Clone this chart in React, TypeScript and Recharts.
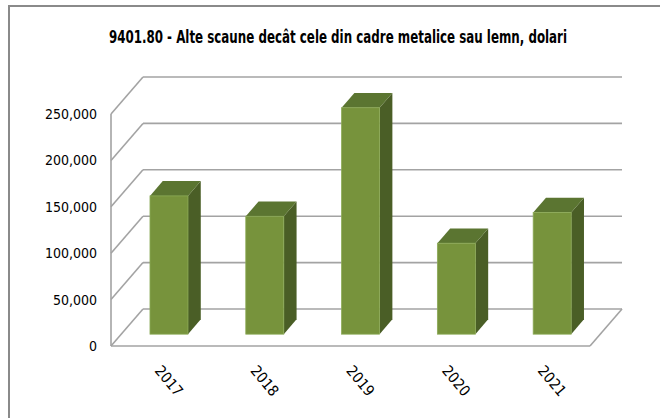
import React, { useLayoutEffect, useRef, useState } from 'react';
import { BarChart, Bar, XAxis, YAxis, CartesianGrid } from 'recharts';

const YEARS = ['2017', '2018', '2019', '2020', '2021'];
const VALUES = [149000, 127000, 244000, 98000, 131000];
const Y_TICKS = [0, 50000, 100000, 150000, 200000, 250000];
const TITLE = '9401.80 - Alte scaune decât cele din cadre metalice sau lemn, dolari';

// 3D look: depth of the floor, bar offset and bar depth (fractions of floor depth)
const DX = 32;
const DY = 37;
const BAR_OFFSET = 0.32;
const BAR_DEPTH = 0.4;

const FRONT = '#77933C';
const TOP = '#5B7531';
const SIDE = '#4A5E26';
const GRID = '#a3a3a3';
const FONT = '"DejaVu Sans Condensed", "DejaVu Sans", sans-serif';
const TITLE_WIDTH = 458;

const data = YEARS.map((year, i) => ({ year, value: VALUES[i] }));

function Box3D(props: any) {
  const { x, y, width, height } = props;
  if (height == null || width == null) return null;
  const fx = x + DX * BAR_OFFSET;
  const fy = y - DY * BAR_OFFSET;
  const bx = DX * BAR_DEPTH;
  const by = DY * BAR_DEPTH;
  const side = `${fx + width},${fy} ${fx + width + bx},${fy - by} ${fx + width + bx},${fy + height - by} ${fx + width},${fy + height}`;
  const top = `${fx},${fy} ${fx + bx},${fy - by} ${fx + width + bx},${fy - by} ${fx + width},${fy}`;
  return (
    <g>
      <polygon points={side} fill={SIDE} />
      <polygon points={top} fill={TOP} />
      <rect x={fx} y={fy} width={width} height={height} fill={FRONT} stroke="#8caa57" strokeWidth={0.8} />
    </g>
  );
}

function gridLine(props: any) {
  const { x1, y1, x2, y2, index } = props;
  const bottom = (props.y ?? 0) + (props.height ?? 0);
  const isFloor = Math.abs(y1 - bottom) < 0.5;
  return (
    <g key={`grid-${index}-${y1}`} stroke={GRID} strokeWidth={1.6} fill="none">
      <line x1={x1} y1={y1} x2={x1 + DX} y2={y1 - DY} />
      <line x1={x1 + DX} y1={y1 - DY} x2={x2 + DX} y2={y2 - DY} />
      {isFloor && <line x1={x2} y1={y2} x2={x2 + DX} y2={y2 - DY} />}
    </g>
  );
}

function YearTick({ x, y, payload }: any) {
  return (
    <text
      x={x - 5}
      y={y + 25}
      transform={`rotate(50 ${x - 5} ${y + 25})`}
      textAnchor="start"
      fontFamily={FONT}
      fontSize={15}
      fill="#000"
    >
      {payload.value}
    </text>
  );
}

// Bold title squeezed horizontally to the reference's condensed width
function Title() {
  const ref = useRef<SVGTextElement>(null);
  const [sx, setSx] = useState(0.7);
  useLayoutEffect(() => {
    if (ref.current) {
      const w = ref.current.getBBox().width;
      if (w > 0) setSx(TITLE_WIDTH / w);
    }
  }, []);
  return (
    <svg width={660} height={70} style={{ position: 'absolute', left: 0, top: 0 }}>
      <g transform={`translate(338 43) scale(${sx} 1)`}>
        <text ref={ref} x={0} y={0} textAnchor="middle" fontFamily={FONT} fontWeight="bold" fontSize={17} fill="#000">
          {TITLE}
        </text>
      </g>
    </svg>
  );
}

export default function App() {
  return (
    <div style={{ position: 'absolute', left: 0, top: 0, width: 660, height: 418, overflow: 'hidden', background: '#fff' }}>
      <div
        style={{
          position: 'absolute',
          left: 8,
          top: 5,
          width: 700,
          height: 500,
          borderTop: '2px solid #8a8a8a',
          borderLeft: '2px solid #8a8a8a',
        }}
      />
      <Title />
      <div style={{ position: 'absolute', left: 0, top: 0 }}>
        <BarChart width={660} height={418} data={data} margin={{ top: 114, right: 70, bottom: 0, left: 0 }} barCategoryGap="30%">
          <CartesianGrid vertical={false} horizontal={gridLine} />
          <XAxis
            dataKey="year"
            height={72}
            tickLine={false}
            tickSize={0}
            tickMargin={0}
            axisLine={{ stroke: GRID, strokeWidth: 1.6 }}
            tick={<YearTick />}
            interval={0}
          />
          <YAxis
            width={111}
            domain={[0, 250000]}
            ticks={Y_TICKS}
            tickLine={false}
            tickSize={0}
            tickMargin={14}
            axisLine={{ stroke: GRID, strokeWidth: 1.6 }}
            tick={{ fontFamily: FONT, fontSize: 14, fill: '#000' }}
            tickFormatter={(v: number) => v.toLocaleString('en-US')}
          />
          <Bar dataKey="value" shape={<Box3D />} isAnimationActive={false} />
        </BarChart>
      </div>
    </div>
  );
}
